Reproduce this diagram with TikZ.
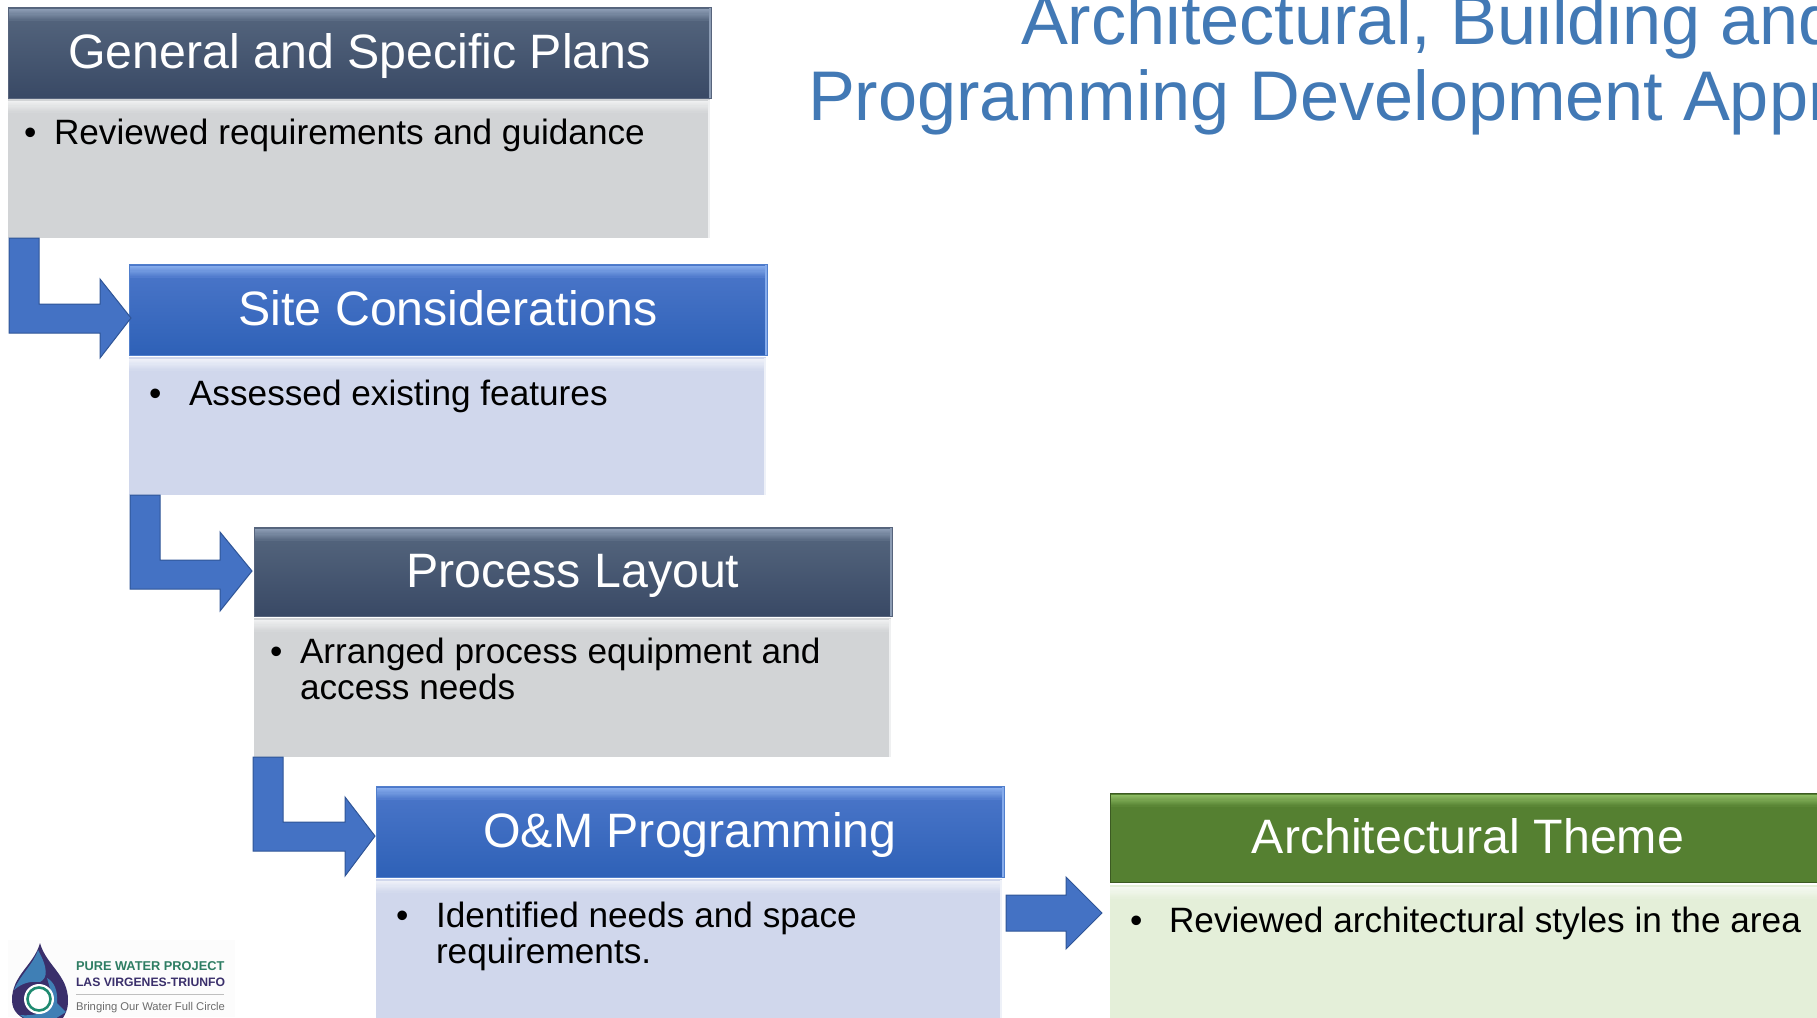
\documentclass[tikz,border=0pt]{standalone}
\usepackage{fontspec}
\setmainfont{Liberation Sans}
\usetikzlibrary{calc}
\definecolor{titleblue}{HTML}{4279B5}
\definecolor{arrowblue}{HTML}{4472C4}
\definecolor{arrowedge}{HTML}{2F5597}
\definecolor{HA}{HTML}{56677F}\definecolor{HB}{HTML}{394965}\definecolor{HC}{HTML}{8C9CB4}
\definecolor{BA}{HTML}{4C77CA}\definecolor{BB}{HTML}{2E61B7}\definecolor{BC}{HTML}{86ACEC}
\definecolor{GA}{HTML}{558031}\definecolor{GC}{HTML}{8DBB63}
\definecolor{GRY}{HTML}{D2D4D6}\definecolor{LBL}{HTML}{D0D7EC}\definecolor{LGR}{HTML}{E4EFD9}
\definecolor{logog}{HTML}{2E7D63}\definecolor{logod}{HTML}{3A2F6B}\definecolor{logob}{HTML}{3F7FB5}\definecolor{logoc}{HTML}{1F8A70}
\tikzset{
 box/.style={rectangle,inner sep=0pt,outer sep=0pt,anchor=north west},
 striped/.style n args={2}{path picture={
   \foreach \i in {0,...,9}{
     \pgfmathsetmacro{\p}{100-10*\i}
     \fill[#1!\p!#2] ([yshift={-1.5pt-1.2pt*\i}]path picture bounding box.north west) rectangle ([yshift={-2.9pt-1.2pt*\i}]path picture bounding box.north east);
   }
   \fill[#1] ([yshift=-1pt]path picture bounding box.north east) rectangle ([xshift=-2.5pt]path picture bounding box.south east);
 }},
 headtxt/.style={text=white,font=\fontsize{48.3}{48.3}\selectfont,text height=42pt,text depth=10pt},
 hslate/.style={box,headtxt,top color=HA,bottom color=HB,striped={HC}{HA},draw=HB!85!white,line width=1pt},
 hblue/.style={box,headtxt,top color=BA,bottom color=BB,striped={BC}{BA},draw=BB!60!BC,line width=1pt},
 hgreen/.style={box,headtxt,fill=GA,striped={GC}{GA},draw=GA!70!black,line width=1pt},
 bgray/.style={box,fill=GRY,striped={GRY!35!white}{GRY}},
 bblue/.style={box,fill=LBL,striped={LBL!35!white}{LBL}},
 bgreen/.style={box,fill=LGR,striped={LGR!35!white}{LGR}},
 bodytxt/.style={inner sep=0pt,outer sep=0pt,anchor=base west,text=black,font=\fontsize{35.2}{36}\selectfont},
 arrowshape/.style={fill=arrowblue,draw=arrowedge,line width=1pt,line join=miter},
 titletxt/.style={inner sep=0pt,outer sep=0pt,anchor=base west,text=titleblue,font=\fontsize{70.3}{72}\selectfont},
 logotxt/.style={inner sep=0pt,outer sep=0pt,anchor=base west}
}
\begin{document}
\begin{tikzpicture}[x=1pt,y=-1pt]
\useasboundingbox (0,0) rectangle (1817,1017);
\clip (0,0) rectangle (1817,1017);
% title
\node[titletxt] (t1) at (1021,44) {Architectural, Building and};
\node[titletxt] (t2) at (808,120) {Programming Development Approach};
% general
\node[bgray,minimum width=702pt,minimum height=139pt] (b1) at (8,99) {};
\node[hslate,minimum width=703pt,minimum height=91pt] (h1) at (8,7) {General and Specific Plans};
\node[bodytxt] (u1) at (24,144) {•};
\node[bodytxt] (x1) at (54,144) {Reviewed requirements and guidance};
% site
\node[bblue,minimum width=637pt,minimum height=138pt] (b2) at (129,357) {};
\node[hblue,minimum width=638pt,minimum height=91pt] (h2) at (129,264) {Site Considerations};
\node[bodytxt] (u2) at (149,405) {•};
\node[bodytxt] (x2) at (189,405) {Assessed existing features};
% process
\node[bgray,minimum width=637pt,minimum height=139pt] (b3) at (254,618) {};
\node[hslate,minimum width=638pt,minimum height=89pt] (h3) at (254,527) {Process Layout};
\node[bodytxt] (u3) at (270,663) {•};
\node[bodytxt] (x3) at (300,663) {Arranged process equipment and};
\node[bodytxt] (x3b) at (300,699) {access needs};
% O&M
\node[bblue,minimum width=626pt,minimum height=150pt] (b4) at (376,879) {};
\node[hblue,minimum width=628pt,minimum height=91pt] (h4) at (376,786) {O\&M Programming};
\node[bodytxt] (u4) at (396,927) {•};
\node[bodytxt] (x4) at (436,927) {Identified needs and space};
\node[bodytxt] (x4b) at (436,963) {requirements.};
% theme
\node[bgreen,minimum width=720pt,minimum height=140pt] (b5) at (1110,885) {};
\node[hgreen,minimum width=716pt,minimum height=89pt] (h5) at (1110,793) {Architectural Theme};
\node[bodytxt] (u5) at (1130,932) {•};
\node[bodytxt] (x5) at (1169,932) {Reviewed architectural styles in the area};
% arrows
\draw[arrowshape] ([xshift=1pt]b1.south west) -- ++(30,0) -- ++(0,66) -- ++(61,0) -- ++(0,-25) -- ++(31,39) -- ++(-31,40) -- ++(0,-25) -- ++(-91,0) -- cycle;
\draw[arrowshape] ([xshift=1pt]b2.south west) -- ++(30,0) -- ++(0,65) -- ++(60,0) -- ++(0,-28) -- ++(32,39) -- ++(-32,40) -- ++(0,-22) -- ++(-90,0) -- cycle;
\draw[arrowshape] ([xshift=-1pt]b3.south west) -- ++(30,0) -- ++(0,65) -- ++(62,0) -- ++(0,-25) -- ++(30,39) -- ++(-30,40) -- ++(0,-25) -- ++(-92,0) -- cycle;
\draw[arrowshape] ([xshift=4pt,yshift=-16pt]b4.north east) -- ++(60,0) -- ++(0,-18) -- ++(36,36) -- ++(-36,36) -- ++(0,-18) -- ++(-60,0) -- cycle;
% logo
\fill[white!98!gray] (8,940) rectangle (235,1017);
\fill[logod] (40,943) .. controls (34,965) and (12,975) .. (12,1000) .. controls (12,1012) and (20,1017) .. (30,1022) -- (60,1022) .. controls (68,1012) and (68,1005) .. (68,1000) .. controls (68,975) and (46,965) .. (40,943) -- cycle;
\fill[logob] (38,950) .. controls (33,965) and (20,975) .. (14,990) .. controls (22,983) and (30,981) .. (40,982) .. controls (48,978) and (48,968) .. (38,950) -- cycle;
\fill[logob] (47,978) .. controls (54,982) and (58,990) .. (57,1003) -- (66,1012) -- (50,1022) -- (30,1022) -- (20,1015) .. controls (30,1016) and (55,1015) .. (52,995) -- cycle;
\fill[white] (39,999) circle (15);
\draw[logoc,line width=2.6pt] (39,999) circle (11.5);
\node[logotxt,text=logog,font=\bfseries\fontsize{12.8}{14}\selectfont] (l1) at (76,970) {PURE WATER PROJECT};
\node[logotxt,text=logod,font=\bfseries\fontsize{12.2}{14}\selectfont] (l2) at (76,986) {LAS VIRGENES-TRIUNFO};
\draw[gray!50,line width=.6pt] (76,994) -- (224,994);
\node[logotxt,text=gray!85!black,font=\fontsize{11.25}{12}\selectfont] (l3) at (76,1010) {Bringing Our Water Full Circle};
\end{tikzpicture}
\end{document}
